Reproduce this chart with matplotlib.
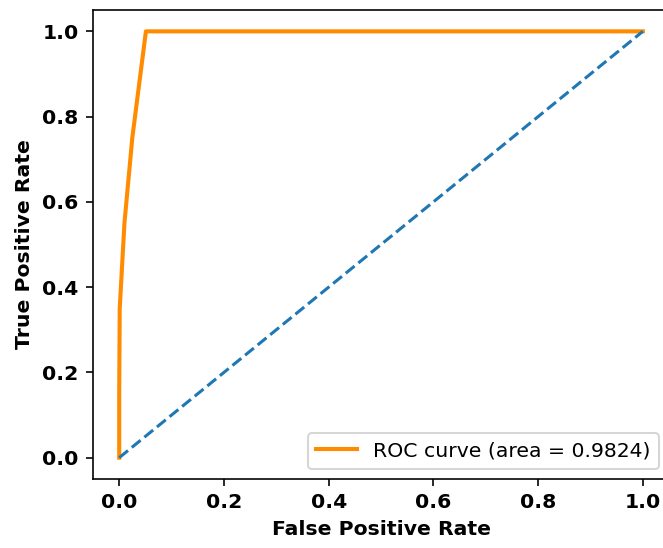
import matplotlib.pyplot as plt
import numpy as np

# ROC points
fpr = [0.0, 0.0, 0.001, 0.01, 0.025, 0.051, 1.0]
tpr = [0.0, 0.15, 0.35, 0.55, 0.75, 1.0, 1.0]
roc_auc = 0.9824
diag = [0, 1]

dpi = 147
fig = plt.figure(figsize=(663 / dpi, 548 / dpi), dpi=dpi)
ax = fig.add_axes([0.1403, 0.1259, 0.8688, 0.8558])

ax.plot(fpr, tpr, color='darkorange', lw=2, label=f'ROC curve (area = {roc_auc:.4f})')
ax.plot(diag, diag, color='tab:blue', lw=1.5, linestyle='--')

ax.set_xlabel('False Positive Rate', fontweight='bold')
ax.set_ylabel('True Positive Rate', fontweight='bold')
for lbl in ax.get_xticklabels() + ax.get_yticklabels():
    lbl.set_fontweight('bold')
ax.legend(loc='lower right')

plt.savefig('out.png', dpi=dpi)
